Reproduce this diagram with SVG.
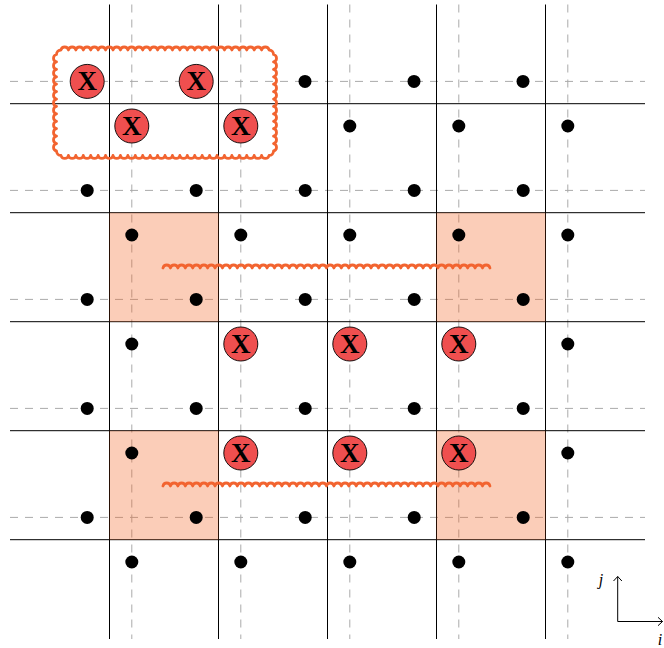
<svg xmlns="http://www.w3.org/2000/svg" width="664" height="648" viewBox="0 0 664 648">
<style>
.solid{stroke:#000;stroke-width:1;fill:none}
.dash{stroke:#aaa;stroke-width:1;stroke-dasharray:8 7;fill:none}
.sq{fill:#F26522;fill-opacity:0.32;stroke:none}
.wave{stroke:#F26430;stroke-width:2.8;fill:none;stroke-linejoin:round;stroke-linecap:round}
.dot{fill:#000}
.xc{fill:#EF4F4F;stroke:#000;stroke-width:0.9}
.xt{font-family:"Liberation Serif",serif;font-weight:bold;font-size:27px;text-anchor:middle;fill:#000}
.ax{stroke:#000;stroke-width:1;fill:none}
.lbl{font-family:"Liberation Serif",serif;font-style:italic;font-size:16px;text-anchor:middle;fill:#000}
</style>
<rect width="664" height="648" fill="#fff"/>
<g id="grid">
<path class="dash" d="M10,81.4H645M10,190.4H645M10,299.4H645M10,408.4H645M10,517.4H645M131.8,4.5V639M240.8,4.5V639M349.8,4.5V639M458.8,4.5V639M567.8,4.5V639"/>
<path class="solid" d="M10,103.7H645M10,212.7H645M10,321.7H645M10,430.7H645M10,539.7H645M109.5,4.5V639M218.5,4.5V639M327.5,4.5V639M436.5,4.5V639M545.5,4.5V639"/>
</g>
<g id="squares">
<rect class="sq" x="109.5" y="212.7" width="109" height="109"/>
<rect class="sq" x="436.5" y="212.7" width="109" height="109"/>
<rect class="sq" x="109.5" y="430.7" width="109" height="109"/>
<rect class="sq" x="436.5" y="430.7" width="109" height="109"/>
</g>
<g id="connectors">
<path class="wave" d="M163,268a3.8 3.8 0 0 1 7.43 0a3.8 3.8 0 0 1 7.43 0a3.8 3.8 0 0 1 7.43 0a3.8 3.8 0 0 1 7.43 0a3.8 3.8 0 0 1 7.43 0a3.8 3.8 0 0 1 7.43 0a3.8 3.8 0 0 1 7.43 0a3.8 3.8 0 0 1 7.43 0a3.8 3.8 0 0 1 7.43 0a3.8 3.8 0 0 1 7.43 0a3.8 3.8 0 0 1 7.43 0a3.8 3.8 0 0 1 7.43 0a3.8 3.8 0 0 1 7.43 0a3.8 3.8 0 0 1 7.43 0a3.8 3.8 0 0 1 7.43 0a3.8 3.8 0 0 1 7.43 0a3.8 3.8 0 0 1 7.43 0a3.8 3.8 0 0 1 7.43 0a3.8 3.8 0 0 1 7.43 0a3.8 3.8 0 0 1 7.43 0a3.8 3.8 0 0 1 7.43 0a3.8 3.8 0 0 1 7.43 0a3.8 3.8 0 0 1 7.43 0a3.8 3.8 0 0 1 7.43 0a3.8 3.8 0 0 1 7.43 0a3.8 3.8 0 0 1 7.43 0a3.8 3.8 0 0 1 7.43 0a3.8 3.8 0 0 1 7.43 0a3.8 3.8 0 0 1 7.43 0a3.8 3.8 0 0 1 7.43 0a3.8 3.8 0 0 1 7.43 0a3.8 3.8 0 0 1 7.43 0a3.8 3.8 0 0 1 7.43 0a3.8 3.8 0 0 1 7.43 0a3.8 3.8 0 0 1 7.43 0a3.8 3.8 0 0 1 7.43 0a3.8 3.8 0 0 1 7.43 0a3.8 3.8 0 0 1 7.43 0a3.8 3.8 0 0 1 7.43 0a3.8 3.8 0 0 1 7.43 0a3.8 3.8 0 0 1 7.43 0a3.8 3.8 0 0 1 7.43 0a3.8 3.8 0 0 1 7.43 0a3.8 3.8 0 0 1 7.43 0"/>
<path class="wave" d="M163,486a3.8 3.8 0 0 1 7.43 0a3.8 3.8 0 0 1 7.43 0a3.8 3.8 0 0 1 7.43 0a3.8 3.8 0 0 1 7.43 0a3.8 3.8 0 0 1 7.43 0a3.8 3.8 0 0 1 7.43 0a3.8 3.8 0 0 1 7.43 0a3.8 3.8 0 0 1 7.43 0a3.8 3.8 0 0 1 7.43 0a3.8 3.8 0 0 1 7.43 0a3.8 3.8 0 0 1 7.43 0a3.8 3.8 0 0 1 7.43 0a3.8 3.8 0 0 1 7.43 0a3.8 3.8 0 0 1 7.43 0a3.8 3.8 0 0 1 7.43 0a3.8 3.8 0 0 1 7.43 0a3.8 3.8 0 0 1 7.43 0a3.8 3.8 0 0 1 7.43 0a3.8 3.8 0 0 1 7.43 0a3.8 3.8 0 0 1 7.43 0a3.8 3.8 0 0 1 7.43 0a3.8 3.8 0 0 1 7.43 0a3.8 3.8 0 0 1 7.43 0a3.8 3.8 0 0 1 7.43 0a3.8 3.8 0 0 1 7.43 0a3.8 3.8 0 0 1 7.43 0a3.8 3.8 0 0 1 7.43 0a3.8 3.8 0 0 1 7.43 0a3.8 3.8 0 0 1 7.43 0a3.8 3.8 0 0 1 7.43 0a3.8 3.8 0 0 1 7.43 0a3.8 3.8 0 0 1 7.43 0a3.8 3.8 0 0 1 7.43 0a3.8 3.8 0 0 1 7.43 0a3.8 3.8 0 0 1 7.43 0a3.8 3.8 0 0 1 7.43 0a3.8 3.8 0 0 1 7.43 0a3.8 3.8 0 0 1 7.43 0a3.8 3.8 0 0 1 7.43 0a3.8 3.8 0 0 1 7.43 0a3.8 3.8 0 0 1 7.43 0a3.8 3.8 0 0 1 7.43 0a3.8 3.8 0 0 1 7.43 0a3.8 3.8 0 0 1 7.43 0"/>
<path class="wave" d="M61,50a3.8 3.8 0 0 1 7.43 0a3.8 3.8 0 0 1 7.43 0a3.8 3.8 0 0 1 7.43 0a3.8 3.8 0 0 1 7.43 0a3.8 3.8 0 0 1 7.43 0a3.8 3.8 0 0 1 7.43 0a3.8 3.8 0 0 1 7.43 0a3.8 3.8 0 0 1 7.43 0a3.8 3.8 0 0 1 7.43 0a3.8 3.8 0 0 1 7.43 0a3.8 3.8 0 0 1 7.43 0a3.8 3.8 0 0 1 7.43 0a3.8 3.8 0 0 1 7.43 0a3.8 3.8 0 0 1 7.43 0a3.8 3.8 0 0 1 7.43 0a3.8 3.8 0 0 1 7.43 0a3.8 3.8 0 0 1 7.43 0a3.8 3.8 0 0 1 7.43 0a3.8 3.8 0 0 1 7.43 0a3.8 3.8 0 0 1 7.43 0a3.8 3.8 0 0 1 7.43 0a3.8 3.8 0 0 1 7.43 0a3.8 3.8 0 0 1 7.43 0a3.8 3.8 0 0 1 7.43 0a3.8 3.8 0 0 1 7.43 0a3.8 3.8 0 0 1 7.43 0a3.8 3.8 0 0 1 7.43 0a3.8 3.8 0 0 1 7.43 0a4.5 4.5 0 0 1 4.5 4.5a3.8 3.8 0 0 1 0 7.42a3.8 3.8 0 0 1 0 7.42a3.8 3.8 0 0 1 0 7.42a3.8 3.8 0 0 1 0 7.42a3.8 3.8 0 0 1 0 7.42a3.8 3.8 0 0 1 0 7.42a3.8 3.8 0 0 1 0 7.42a3.8 3.8 0 0 1 0 7.42a3.8 3.8 0 0 1 0 7.42a3.8 3.8 0 0 1 0 7.42a3.8 3.8 0 0 1 0 7.42a3.8 3.8 0 0 1 0 7.42a3.8 3.8 0 0 1 0 7.42a4.5 4.5 0 0 1 -4.5 4.5a3.8 3.8 0 0 1 -7.43 0a3.8 3.8 0 0 1 -7.43 0a3.8 3.8 0 0 1 -7.43 0a3.8 3.8 0 0 1 -7.43 0a3.8 3.8 0 0 1 -7.43 0a3.8 3.8 0 0 1 -7.43 0a3.8 3.8 0 0 1 -7.43 0a3.8 3.8 0 0 1 -7.43 0a3.8 3.8 0 0 1 -7.43 0a3.8 3.8 0 0 1 -7.43 0a3.8 3.8 0 0 1 -7.43 0a3.8 3.8 0 0 1 -7.43 0a3.8 3.8 0 0 1 -7.43 0a3.8 3.8 0 0 1 -7.43 0a3.8 3.8 0 0 1 -7.43 0a3.8 3.8 0 0 1 -7.43 0a3.8 3.8 0 0 1 -7.43 0a3.8 3.8 0 0 1 -7.43 0a3.8 3.8 0 0 1 -7.43 0a3.8 3.8 0 0 1 -7.43 0a3.8 3.8 0 0 1 -7.43 0a3.8 3.8 0 0 1 -7.43 0a3.8 3.8 0 0 1 -7.43 0a3.8 3.8 0 0 1 -7.43 0a3.8 3.8 0 0 1 -7.43 0a3.8 3.8 0 0 1 -7.43 0a3.8 3.8 0 0 1 -7.43 0a3.8 3.8 0 0 1 -7.43 0a4.5 4.5 0 0 1 -4.5 -4.5a3.8 3.8 0 0 1 0 -7.42a3.8 3.8 0 0 1 0 -7.42a3.8 3.8 0 0 1 0 -7.42a3.8 3.8 0 0 1 0 -7.42a3.8 3.8 0 0 1 0 -7.42a3.8 3.8 0 0 1 0 -7.42a3.8 3.8 0 0 1 0 -7.42a3.8 3.8 0 0 1 0 -7.42a3.8 3.8 0 0 1 0 -7.42a3.8 3.8 0 0 1 0 -7.42a3.8 3.8 0 0 1 0 -7.42a3.8 3.8 0 0 1 0 -7.42a3.8 3.8 0 0 1 0 -7.42a4.5 4.5 0 0 1 4.5 -4.5Z"/>
</g>
<g id="dots">
<circle class="dot" cx="305" cy="81.4" r="6.5"/><circle class="dot" cx="414" cy="81.4" r="6.5"/><circle class="dot" cx="523" cy="81.4" r="6.5"/>
<circle class="dot" cx="349.8" cy="126" r="6.5"/><circle class="dot" cx="458.8" cy="126" r="6.5"/><circle class="dot" cx="567.8" cy="126" r="6.5"/>
<circle class="dot" cx="87.2" cy="190.4" r="6.5"/><circle class="dot" cx="196.2" cy="190.4" r="6.5"/><circle class="dot" cx="305.2" cy="190.4" r="6.5"/><circle class="dot" cx="414.2" cy="190.4" r="6.5"/><circle class="dot" cx="523.2" cy="190.4" r="6.5"/>
<circle class="dot" cx="131.8" cy="235" r="6.5"/><circle class="dot" cx="240.8" cy="235" r="6.5"/><circle class="dot" cx="349.8" cy="235" r="6.5"/><circle class="dot" cx="458.8" cy="235" r="6.5"/><circle class="dot" cx="567.8" cy="235" r="6.5"/>
<circle class="dot" cx="87.2" cy="299.4" r="6.5"/><circle class="dot" cx="196.2" cy="299.4" r="6.5"/><circle class="dot" cx="305.2" cy="299.4" r="6.5"/><circle class="dot" cx="414.2" cy="299.4" r="6.5"/><circle class="dot" cx="523.2" cy="299.4" r="6.5"/>
<circle class="dot" cx="131.8" cy="344" r="6.5"/><circle class="dot" cx="567.8" cy="344" r="6.5"/>
<circle class="dot" cx="87.2" cy="408.4" r="6.5"/><circle class="dot" cx="196.2" cy="408.4" r="6.5"/><circle class="dot" cx="305.2" cy="408.4" r="6.5"/><circle class="dot" cx="414.2" cy="408.4" r="6.5"/><circle class="dot" cx="523.2" cy="408.4" r="6.5"/>
<circle class="dot" cx="131.8" cy="453" r="6.5"/><circle class="dot" cx="567.8" cy="453" r="6.5"/>
<circle class="dot" cx="87.2" cy="517.4" r="6.5"/><circle class="dot" cx="196.2" cy="517.4" r="6.5"/><circle class="dot" cx="305.2" cy="517.4" r="6.5"/><circle class="dot" cx="414.2" cy="517.4" r="6.5"/><circle class="dot" cx="523.2" cy="517.4" r="6.5"/>
<circle class="dot" cx="131.8" cy="562" r="6.5"/><circle class="dot" cx="240.8" cy="562" r="6.5"/><circle class="dot" cx="349.8" cy="562" r="6.5"/><circle class="dot" cx="458.8" cy="562" r="6.5"/><circle class="dot" cx="567.8" cy="562" r="6.5"/>
</g>
<g id="x1"><circle class="xc" cx="87.2" cy="81.4" r="17"/><text class="xt" x="87.2" y="90.3">X</text></g>
<g id="x2"><circle class="xc" cx="196.2" cy="81.4" r="17"/><text class="xt" x="196.2" y="90.3">X</text></g>
<g id="x3"><circle class="xc" cx="131.8" cy="126" r="17"/><text class="xt" x="131.8" y="134.9">X</text></g>
<g id="x4"><circle class="xc" cx="240.8" cy="126" r="17"/><text class="xt" x="240.8" y="134.9">X</text></g>
<g id="x5"><circle class="xc" cx="240.8" cy="344" r="17"/><text class="xt" x="240.8" y="352.9">X</text></g>
<g id="x6"><circle class="xc" cx="349.8" cy="344" r="17"/><text class="xt" x="349.8" y="352.9">X</text></g>
<g id="x7"><circle class="xc" cx="458.8" cy="344" r="17"/><text class="xt" x="458.8" y="352.9">X</text></g>
<g id="x8"><circle class="xc" cx="240.8" cy="453" r="17"/><text class="xt" x="240.8" y="461.9">X</text></g>
<g id="x9"><circle class="xc" cx="349.8" cy="453" r="17"/><text class="xt" x="349.8" y="461.9">X</text></g>
<g id="x10"><circle class="xc" cx="458.8" cy="453" r="17"/><text class="xt" x="458.8" y="461.9">X</text></g>
<g id="axes">
<path class="ax" d="M617.7,621.5V576.5M613.5,581L617.7,576.5L621.9,581M617.7,621.5H662.5M658,617.3L662.5,621.5L658,625.7"/>
<text class="lbl" x="601" y="585">j</text>
<text class="lbl" x="660" y="645">i</text>
</g>
</svg>
